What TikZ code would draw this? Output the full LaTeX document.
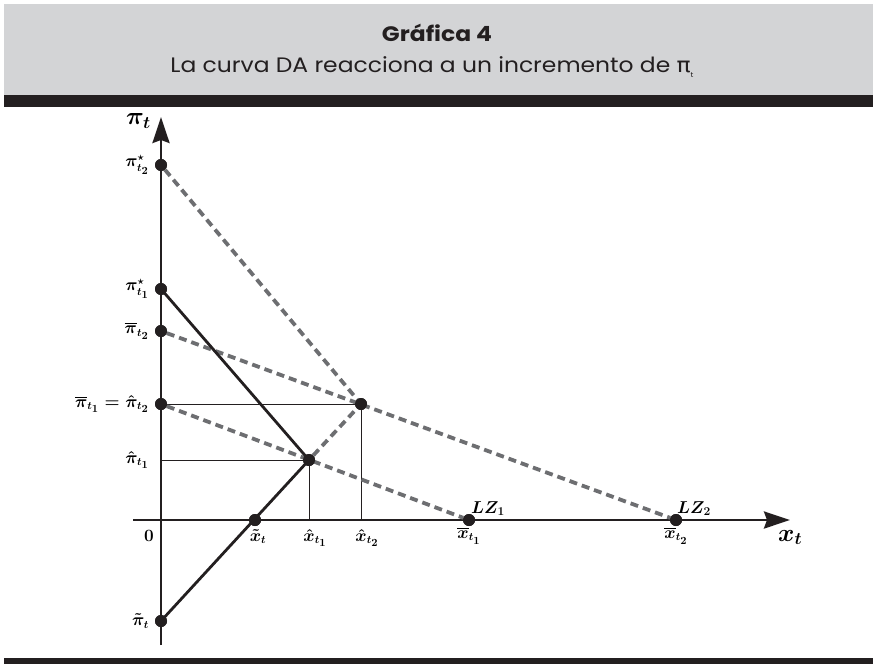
\documentclass[tikz,border=0pt]{standalone}
\usepackage{fontspec}
\usepackage{amsmath}
\usetikzlibrary{arrows.meta}
\newfontfamily\gothic[FakeStretch=1.12]{Poppins}
\newfontfamily\greekfont[FakeStretch=1.12]{DejaVu Sans}
\definecolor{hdrgray}{HTML}{D3D4D6}
\definecolor{barblack}{HTML}{231F20}
\definecolor{dashgray}{HTML}{6D6E71}
\tikzset{
  axisline/.style={line width=2.8bp, draw=barblack, -{Stealth[length=26bp,width=17bp,inset=3bp]}},
  solidline/.style={line width=2.8bp, draw=barblack},
  dashline/.style={line width=3.8bp, draw=dashgray, dash pattern=on 8bp off 5bp},
  thinline/.style={line width=0.8bp, draw=barblack},
  dot/.style={circle, fill=barblack, inner sep=0pt, minimum size=12bp},
  lbl/.style={inner sep=1bp, font=\fontsize{16}{19}\selectfont\boldmath},
  biglbl/.style={inner sep=1bp, font=\fontsize{24}{28}\selectfont\boldmath},
  titletext/.style={font=\gothic\bfseries\fontsize{21}{25}\selectfont, text=barblack},
  subtext/.style={font=\gothic\fontsize{21}{25}\selectfont, text=barblack},
}
\newcommand{\subsz}[1]{{\scriptstyle #1}}
\begin{document}
\begin{tikzpicture}[x=1bp,y=-1bp]
\useasboundingbox (0,0) rectangle (873,664);
% header
\fill[hdrgray] (4,4) rectangle (873,95);
\fill[barblack] (4,95) rectangle (873,107);
\fill[barblack] (4,658) rectangle (873,664);
\node[titletext] (title) at (437,33) {Gráfica 4};
\node[subtext] (sub) at (432,67) {La curva DA reacciona a un incremento de {\greekfont π}\raisebox{-0.45ex}{\fontsize{7}{8}\selectfont t}};
% axes
\coordinate (ybot) at (161,645);
\coordinate (ytop) at (161,117);
\coordinate (xleft) at (133,520);
\coordinate (xright) at (790,520);
\draw[axisline] (ybot) -- (ytop);
\draw[axisline] (xleft) -- (xright);
% points
\node[dot] (ps2) at (161,165) {};
\node[dot] (ps1) at (161,289) {};
\node[dot] (pb2) at (161,331) {};
\node[dot] (pb1) at (161,404) {};
\coordinate (ph1) at (161,460);
\node[dot] (pt) at (161,621) {};
\node[dot] (xt) at (255,520) {};
\node[dot] (E1) at (309,460) {};
\node[dot] (E2) at (361,404) {};
\coordinate (xh1) at (309,520);
\coordinate (xh2) at (361,520);
\node[dot] (xb1) at (469,520) {};
\node[dot] (xb2) at (676,520) {};
% thin guide lines
\draw[thinline] (ph1) -- (E1.center) -- (xh1);
\draw[thinline] (pb1.center) -- (E2.center) -- (xh2);
% dashed lines
\draw[dashline] (ps2) -- (E2);
\draw[dashline] (E1) -- (E2);
\draw[dashline] (pb2) -- (xb2);
\draw[dashline] (pb1) -- (xb1);
% solid lines
\draw[solidline] (ps1.center) -- (E1.center);
\draw[solidline] (pt.center) -- (E1.center);
% redraw dots on top
\foreach \n in {ps2,ps1,pb2,pb1,pt,xt,E1,E2,xb1,xb2}{\fill[barblack] (\n) circle (6bp);}
% labels
\node[biglbl, anchor=east] (lpi) at (152,121) {$\pi_t$};
\node[biglbl, anchor=north west] (lx) at (777,529) {$x_t$};
\node[lbl, anchor=east] (l1) at (150,165) {$\pi^{\star}_{t_{\subsz 2}}$};
\node[lbl, anchor=east] (l2) at (150,289) {$\pi^{\star}_{t_{\subsz 1}}$};
\node[lbl, anchor=east] (l3) at (150,331) {$\overline{\pi}_{t_{\subsz 2}}$};
\node[lbl, anchor=east] (l4) at (150,404) {$\overline{\pi}_{t_{\subsz 1}}=\hat{\pi}_{t_{\subsz 2}}$};
\node[lbl, anchor=east] (l5) at (150,460) {$\hat{\pi}_{t_{\subsz 1}}$};
\node[lbl, anchor=east] (l6) at (150,621) {$\tilde{\pi}_t$};
\node[lbl, anchor=east] (l0) at (155,536) {$0$};
\node[lbl, anchor=north] (l7) at (258,528) {$\tilde{x}_t$};
\node[lbl, anchor=north] (l8) at (315,528) {$\hat{x}_{t_{\subsz 1}}$};
\node[lbl, anchor=north] (l9) at (367,528) {$\hat{x}_{t_{\subsz 2}}$};
\node[lbl, anchor=north] (l10) at (469,526) {$\overline{x}_{t_{\subsz 1}}$};
\node[lbl, anchor=north] (l11) at (676,526) {$\overline{x}_{t_{\subsz 2}}$};
\node[lbl, anchor=south west, font=\fontsize{17}{20}\selectfont\boldmath] (lz1) at (470,517) {$LZ_1$};
\node[lbl, anchor=south west, font=\fontsize{17}{20}\selectfont\boldmath] (lz2) at (676,517) {$LZ_2$};
\end{tikzpicture}
\end{document}
